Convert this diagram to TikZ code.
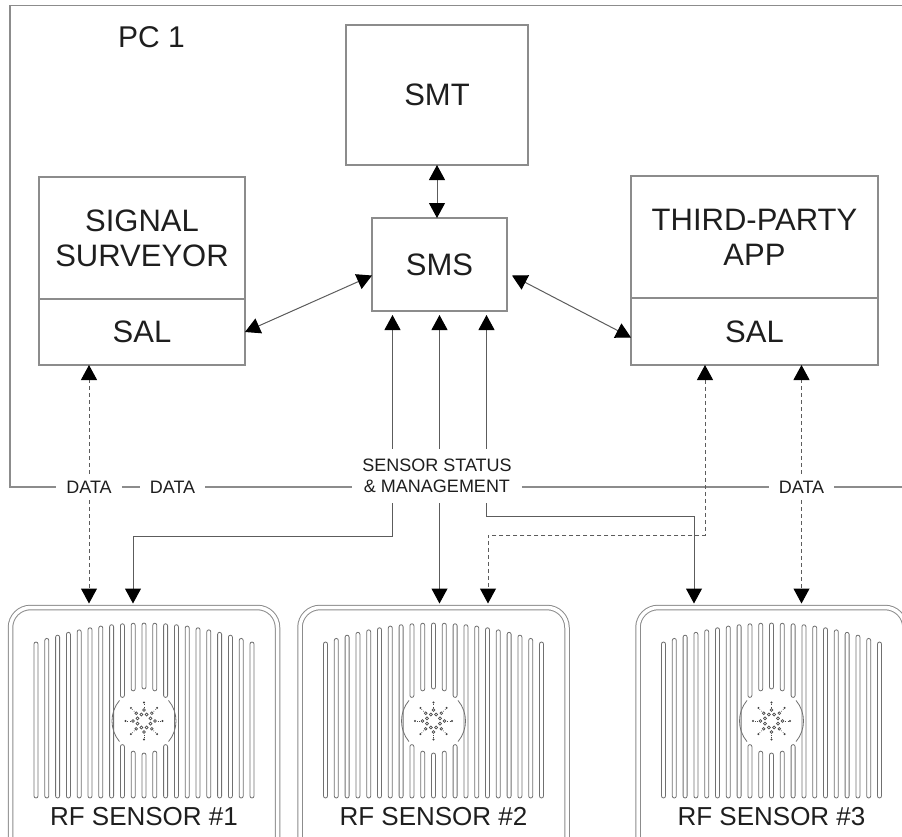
\documentclass[tikz,border=0pt]{standalone}
\usepackage{fontspec}
\setmainfont{Liberation Sans}
\usetikzlibrary{arrows.meta}

\definecolor{boxgray}{HTML}{8C8C8C}
\definecolor{linegray}{HTML}{5C5C5C}
\definecolor{grillegray}{HTML}{707070}
\definecolor{inkgray}{HTML}{1E1E1E}

\tikzset{
  box/.style={draw=boxgray, line width=1.2pt, text=inkgray, align=center,
    inner sep=0pt, outer sep=0pt, font=\fontsize{31}{35}\selectfont},
  pcline/.style={draw=boxgray, line width=1.2pt},
  link/.style={draw=linegray, line width=1pt},
  feed/.style={link, -{Triangle[width=16pt,length=15pt,color=black]}},
  duplex/.style={link, {Triangle[width=16pt,length=15pt,color=black]}-{Triangle[width=16pt,length=15pt,color=black]}},
  dataline/.style={dash pattern=on 4pt off 3pt},
  lbl/.style={text=inkgray, font=\fontsize{18}{21.5}\selectfont, align=center,
    inner xsep=10pt, inner ysep=7pt},
  sensor/.style={draw=boxgray, line width=1pt, double=white, double distance=3.5pt,
    rounded corners=20pt, minimum width=267pt, minimum height=265pt, outer sep=4pt},
  slot/.style={draw=grillegray, line width=0.8pt, rounded corners=2pt},
  icon/.style={draw=linegray!80!black, line width=0.7pt},
}

\begin{document}
\begin{tikzpicture}[x=1pt, y=-1pt]
\useasboundingbox (0,0) rectangle (902,836);

% software blocks on the PC
\node[box, minimum width=182pt, minimum height=140pt] (smt) at (437,95) {SMT};
\node[box, minimum width=135pt, minimum height=93pt] (sms) at (439.5,264.5) {SMS};
\node[box, minimum width=206pt, minimum height=122pt] (surv) at (142,238) {SIGNAL\\SURVEYOR};
\node[box, minimum width=206pt, minimum height=66pt, anchor=north] (sal1) at (surv.south) {SAL};
\node[box, minimum width=247pt, minimum height=122pt] (app) at (754.5,237) {THIRD-PARTY\\APP};
\node[box, minimum width=247pt, minimum height=67pt, anchor=north] (sal2) at (app.south) {SAL};

\node[text=inkgray, font=\fontsize{30}{35}\selectfont] (pc) at (151.5,37.5) {PC 1};

% labels sitting on the PC border
\node[lbl] (data1) at (89,487) {DATA};
\node[lbl] (data2) at (172.5,487) {DATA};
\node[lbl] (data3) at (801.5,487) {DATA};
\node[lbl, inner ysep=10pt] (stat) at (437,476) {SENSOR STATUS\\\& MANAGEMENT};

% PC border, broken by the labels
\coordinate (pcse) at (910,487);
\draw[pcline] (910,5.5) -| (10,487) -- (data1.west);
\draw[pcline] (data1.east) -- (data2.west);
\draw[pcline] (data2.east) -- (data2.east -| stat.west);
\draw[pcline] (stat.east |- data3.west) -- (data3.west);
\draw[pcline] (data3.east) -- (pcse);

% RF sensors with grille and antenna hub
\foreach \n/\cx in {1/144, 2/433.5, 3/771.5} {
  \node[sensor] (s\n) at (\cx,740) {};
  \node[text=inkgray, font=\fontsize{26}{30}\selectfont] (rf\n) at (\cx,817) {RF SENSOR \#\n};
  \begin{scope}[shift={(\cx,721)}]
    \foreach \i in {-10,...,10} {
      \pgfmathsetmacro\dx{10.8*\i}
      \pgfmathsetmacro\ytop{-98+19*(\i/10)^2}
      \pgfmathtruncatemacro\cut{abs(\i)<3}
      \ifnum\cut=1
        \pgfmathsetmacro\gap{sqrt(1024-\dx*\dx)}
        \draw[slot] (\dx-2,\ytop) rectangle (\dx+2,-\gap);
        \draw[slot] (\dx-2,\gap) rectangle (\dx+2,77);
      \else
        \draw[slot] (\dx-2,\ytop) rectangle (\dx+2,77);
      \fi
    }
    \draw[slot] (140:32pt) arc[start angle=140, end angle=220, radius=32pt];
    \draw[slot] (-40:32pt) arc[start angle=-40, end angle=40, radius=32pt];
    \foreach \a in {0,45,...,315} {
      \draw[icon] (\a+22.5:7pt) circle[radius=1.5pt];
      \draw[icon] (\a:11pt) circle[radius=1.3pt];
      \draw[icon, dotted] (\a:13.5pt) -- (\a:17pt);
      \fill[linegray!70!black] (\a:18.5pt) circle[radius=1.1pt];
    }
  \end{scope}
}

% links between the software blocks
\draw[duplex] (smt.south) -- (smt.south |- sms.north);
\draw[duplex] (sal1.east) -- ([yshift=-11pt]sms.west);
\draw[duplex] ([xshift=5pt,yshift=-11pt]sms.east) -- ([yshift=-6pt]sal2.west);

% sensor status & management
\coordinate (m1) at ([xshift=-47pt,yshift=-4pt]sms.south);
\coordinate (m2) at ([yshift=-4pt]sms.south);
\coordinate (m3) at ([xshift=47pt,yshift=-4pt]sms.south);
\draw[feed] (stat.north -| m1) -- (m1);
\draw[feed] (stat.north -| m2) -- (m2);
\draw[feed] (stat.north -| m3) -- (m3);

\coordinate (b1) at (133,536);
\coordinate (b3) at (694,516);
\draw[feed] (stat.south -| m1) |- (b1) -- (b1 |- s1.north);
\draw[feed] (stat.south -| m2) -- (m2 |- s2.north);
\draw[feed] (stat.south -| m3) |- (b3) -- (b3 |- s3.north);

% data paths
\draw[feed, dataline] (data1.north) -- (data1 |- sal1.south);
\draw[feed, dataline] (data1.south) -- (data1 |- s1.north);
\coordinate (d4) at ([xshift=-49.5pt]sal2.south);
\coordinate (b4) at (488,535);
\draw[duplex, dataline] (d4) |- (b4) -- (b4 |- s2.north);
\draw[feed, dataline] (data3.north) -- (data3 |- sal2.south);
\draw[feed, dataline] (data3.south) -- (data3 |- s3.north);
\end{tikzpicture}
\end{document}
